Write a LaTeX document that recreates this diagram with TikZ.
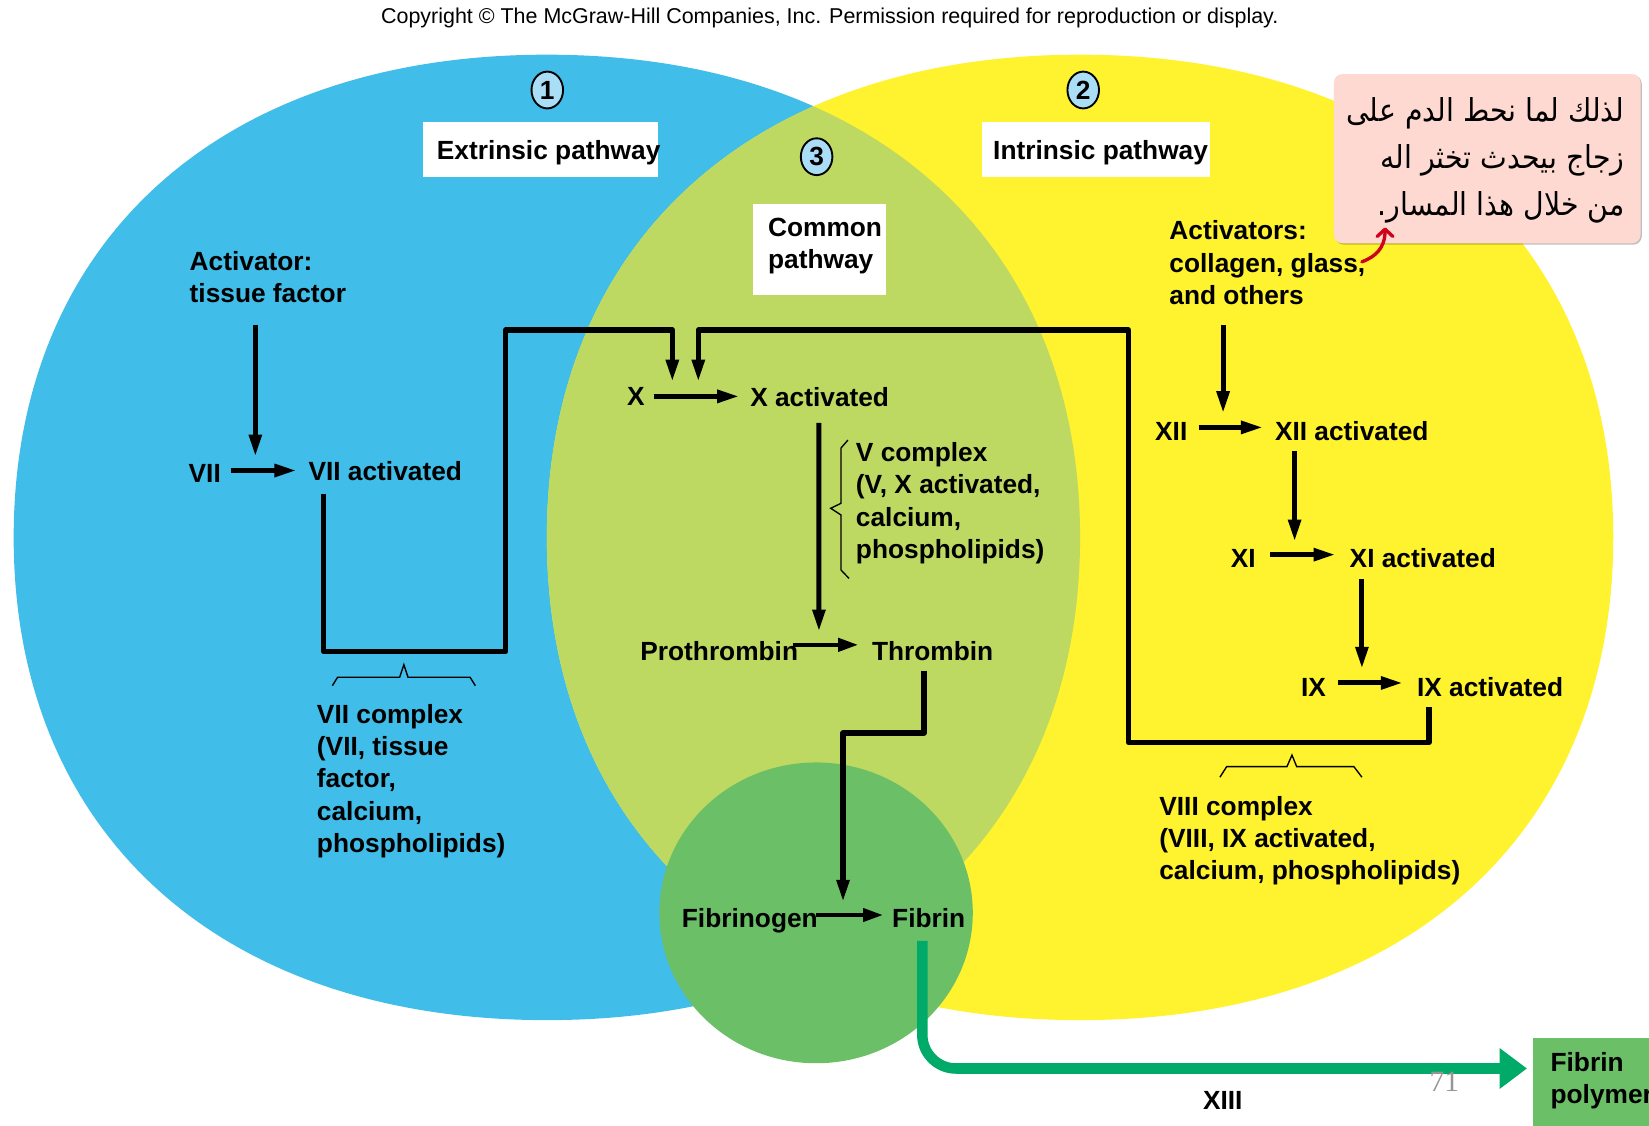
\documentclass[tikz,border=0pt]{standalone}
\usepackage{fontspec}
\setmainfont{Liberation Sans}
\newfontfamily\arabicfont[Script=Arabic, FakeStretch=0.9]{DejaVu Sans}
\newfontfamily\serifnum{Liberation Serif}
\TeXXeTstate=1
\usetikzlibrary{arrows.meta,shapes.geometric,shadows}
\definecolor{blueC}{RGB}{64,189,232}
\definecolor{yellowC}{RGB}{255,242,46}
\definecolor{ygC}{RGB}{190,217,98}
\definecolor{dgC}{RGB}{107,191,103}
\definecolor{arrGreen}{RGB}{0,170,105}
\definecolor{circFill}{RGB}{170,222,246}
\definecolor{pinkC}{RGB}{253,217,209}
\definecolor{redC}{RGB}{208,2,27}
\definecolor{numGray}{RGB}{150,150,150}
\newcommand{\mlines}[1]{\vtop{\halign{##\hfil\cr#1\crcr}}}
\newcommand{\rlines}[1]{\vtop{\halign{\hfil##\cr#1\crcr}}}
\newcommand{\lblfont}{\fontsize{12.5}{15.3}\selectfont\bfseries}
\begin{document}
\begin{tikzpicture}[x=0.5pt,y=-0.5pt,
  lbl/.style={font=\lblfont, inner sep=0pt, anchor=base west},
  arr/.style={line width=2.4pt, -{Triangle[length=10.5pt,width=5.8pt]}},
  thinarr/.style={line width=1.9pt, -{Triangle[length=9.5pt,width=6.2pt]}},
  conn/.style={line width=2.4pt, line join=round},
  bracel/.style={line width=0.65pt},
  wbox/.style={fill=white, inner sep=0pt, anchor=north west},
  circnum/.style={ellipse, draw, line width=0.9pt, fill=circFill, minimum width=15pt, minimum height=17.5pt, inner sep=0pt, font=\fontsize{12.5}{14}\selectfont\bfseries},
  greenarr/.style={draw=arrGreen, line width=5pt, -{Triangle[length=13pt,width=18.5pt]}, color=arrGreen},
  redarr/.style={draw=redC, line width=1.6pt, line cap=round, -{Straight Barb[round,length=3.5pt,width=7.5pt]}}
]
\useasboundingbox (0,0) rectangle (1568,1070);
\fill[white] (0,0) rectangle (1568,1070);
% big shapes
\fill[blueC] (1027,511) .. controls (1027,792.2) and (830.6,970) .. (520,970) .. controls (209.4,970) and (13,792.2) .. (13,511) .. controls (13,229.8) and (209.4,52) .. (520,52) .. controls (830.6,52) and (1027,229.8) .. (1027,511) -- cycle;
\fill[yellowC] (1534,511) .. controls (1534,792.2) and (1337.6,970) .. (1027,970) .. controls (716.4,970) and (520,792.2) .. (520,511) .. controls (520,229.8) and (716.4,52) .. (1027,52) .. controls (1337.6,52) and (1534,229.8) .. (1534,511) -- cycle;
\begin{scope}
\clip (1027,511) .. controls (1027,792.2) and (830.6,970) .. (520,970) .. controls (209.4,970) and (13,792.2) .. (13,511) .. controls (13,229.8) and (209.4,52) .. (520,52) .. controls (830.6,52) and (1027,229.8) .. (1027,511) -- cycle;
\fill[ygC] (1534,511) .. controls (1534,792.2) and (1337.6,970) .. (1027,970) .. controls (716.4,970) and (520,792.2) .. (520,511) .. controls (520,229.8) and (716.4,52) .. (1027,52) .. controls (1337.6,52) and (1534,229.8) .. (1534,511) -- cycle;
\end{scope}
\fill[dgC] (776,868) ellipse [x radius=149, y radius=143];

% header
\node[font=\fontsize{10.2}{12}\selectfont, inner sep=0pt, anchor=base] (copy) at (789,22) {Copyright © The McGraw-Hill Companies, Inc. Permission required for reproduction or display.};

% circled numbers
\node[circnum] (n1) at (520.4,85.6) {1};
\node[circnum] (n2) at (1030,85.6) {2};
\node[circnum] (n3) at (776.5,149) {3};

% white boxes and titles
\node[wbox, minimum width=111.5pt, minimum height=26pt] (extbox) at (402,116) {};
\node[wbox, minimum width=108.5pt, minimum height=26pt] (intbox) at (933,116) {};
\node[wbox, minimum width=63.2pt, minimum height=43.2pt] (combox) at (716,194) {};
\node[lbl] (ext) at (415,152) {Extrinsic pathway};
\node[lbl] (int) at (944,152) {Intrinsic pathway};
\node[lbl] (com) at (730,225) {\mlines{Common\cr pathway}};

% extrinsic labels
\node[lbl] (act1) at (180,257.5) {\mlines{Activator:\cr tissue factor}};
\node[lbl] (vii) at (179,459) {VII};
\node[lbl] (viia) at (293,456.5) {VII activated};
\node[lbl] (viic) at (301,688) {\mlines{VII complex\cr (VII, tissue\cr factor,\cr calcium,\cr phospholipids)}};

% common labels
\node[lbl] (x) at (596,385.5) {X};
\node[lbl] (xa) at (713,386.5) {X activated};
\node[lbl] (vc) at (813.5,439) {\mlines{V complex\cr (V, X activated,\cr calcium,\cr phospholipids)}};
\node[lbl] (pro) at (608.5,627.6) {Prothrombin};
\node[lbl] (thr) at (828.8,627.6) {Thrombin};
\node[lbl] (fgn) at (648,882) {Fibrinogen};
\node[lbl] (fib) at (848,882) {Fibrin};

% intrinsic labels
\node[lbl] (acts) at (1111.6,228.2) {\mlines{Activators:\cr collagen, glass,\cr and others}};
\node[lbl] (xii) at (1098,419) {XII};
\node[lbl] (xiia) at (1212,419) {XII activated};
\node[lbl] (xi) at (1170,540) {XI};
\node[lbl] (xia) at (1283,540) {XI activated};
\node[lbl] (ix) at (1236.7,662.4) {IX};
\node[lbl] (ixa) at (1347,662.4) {IX activated};
\node[lbl] (viiic) at (1102,775) {\mlines{VIII complex\cr (VIII, IX activated,\cr calcium, phospholipids)}};

% fibrin polymer
\node[fill=dgC, inner sep=0pt, anchor=north west, minimum width=80pt, minimum height=50pt] (fpoly) at (1457,987) {};
\node[lbl] (fpolyt) at (1474,1019) {\mlines{Fibrin\cr polymer}};
\node[lbl] (xiii) at (1143.5,1055.4) {XIII};

% junction coordinates
\coordinate (j1) at (242.8,434.2);
\coordinate (c1b) at (480.8,619.6);
\coordinate (c1c) at (480.8,313.8);
\coordinate (j2) at (639.3,363);
\coordinate (c2b) at (1073,706);
\coordinate (c2c) at (1073,313.8);
\coordinate (j3) at (664,363);
\coordinate (j4) at (778.7,600.6);
\coordinate (c3) at (801.6,697);
\coordinate (j5) at (801.6,857.6);
\coordinate (j6) at (1163,393);
\coordinate (j7) at (1231,515);
\coordinate (j8) at (1295,636);

% extrinsic connectors
\draw[arr] ([xshift=31.4pt,yshift=-10pt]act1.south west) -- (j1);
\draw[arr, shorten <=4.5pt, shorten >=5.5pt] ([yshift=1.5pt]vii.east) -- ([yshift=1.5pt]vii.east -| viia.west);
\draw[conn, arr] ([xshift=7.5pt,yshift=-6.25pt]viia.south west) |- (c1b) -- (c1c) -| (j2);

% common connectors
\draw[arr, shorten <=4pt, shorten >=5pt] (x.east) -- (x.east -| xa.west);
\draw[arr] ([xshift=32.85pt,yshift=-7.5pt]xa.south west) -- (j4);
\draw[thinarr, shorten <=-2.75pt, shorten >=6.4pt] ([yshift=2.75pt]thr.west -| pro.east) -- ([yshift=2.75pt]thr.west);
\draw[conn, arr] ([xshift=24.9pt,yshift=-4.7pt]thr.south west) |- (c3) -- (j5);
\draw[thinarr, shorten <=-1.1pt, shorten >=4.2pt] ([yshift=1.5pt]fib.west -| fgn.east) -- ([yshift=1.5pt]fib.west);

% intrinsic connectors
\draw[arr] ([xshift=25.7pt,yshift=-9.5pt]acts.south west) -- (j6);
\draw[arr, shorten <=5.2pt, shorten >=5.5pt] ([yshift=2pt]xii.east) -- ([yshift=2pt]xii.east -| xiia.west);
\draw[arr] ([xshift=9.5pt,yshift=-4.5pt]xiia.south west) -- (j7);
\draw[arr, shorten <=6.5pt, shorten >=6.5pt] ([yshift=2pt]xi.east) -- ([yshift=2pt]xi.east -| xia.west);
\draw[arr] ([xshift=6pt,yshift=-5pt]xia.south west) -- (j8);
\draw[arr, shorten <=5.35pt, shorten >=6.5pt] ([yshift=2.2pt]ix.east) -- ([yshift=2.2pt]ix.east -| ixa.west);
\draw[conn, arr] ([xshift=5.9pt,yshift=-4.8pt]ixa.south west) |- (c2b) -- (c2c) -| (j3);

% braces
\draw[bracel] (316,652) -- (321,644) -- (380,644) -- (384,632) -- (388,644) -- (447,644) -- (452,652);
\draw[bracel] (1160,739) -- (1166.4,729) -- (1223.7,729) -- (1228.5,718) -- (1233,729) -- (1287.4,729) -- (1295,739);
\draw[bracel] (806.3,418.4) -- (799.7,426) -- (799.7,478.6) -- (789.9,483.3) -- (799.7,489.7) -- (799.7,542) -- (807.3,550);

% green XIII arrow
\draw[greenarr, rounded corners=16pt] ([xshift=-3.05pt,yshift=-6pt]fib.south) |- ([xshift=-2.5pt,yshift=-14.5pt]fpoly.north west);

% page number
\node[font=\serifnum\fontsize{14}{16}\selectfont, text=numGray, inner sep=0pt, anchor=base west] (pgnum) at (1359,1038) {71};

% pink note
\node[fill=pinkC, rounded corners=4pt, inner sep=0pt, anchor=north west, minimum width=145.75pt, minimum height=80.5pt, drop shadow={shadow xshift=0.6pt, shadow yshift=-0.6pt, opacity=0.25, fill=black}] (pink) at (1268,70) {};
\node[font=\arabicfont\fontsize{15}{22.2}\selectfont, inner sep=0pt, anchor=base east] (artext) at (1545,115.7) {\rlines{\beginR لذلك لما نحط الدم على\endR\cr \beginR زجاج بيحدث تخثر اله\endR\cr \beginR من خلال هذا المسار.\endR}};
\coordinate (rstart) at (1295,249);
\draw[redarr] (rstart) .. controls (1308,244) and (1317,236) .. ([xshift=24.5pt,yshift=7.75pt]pink.south west);
\end{tikzpicture}
\end{document}
